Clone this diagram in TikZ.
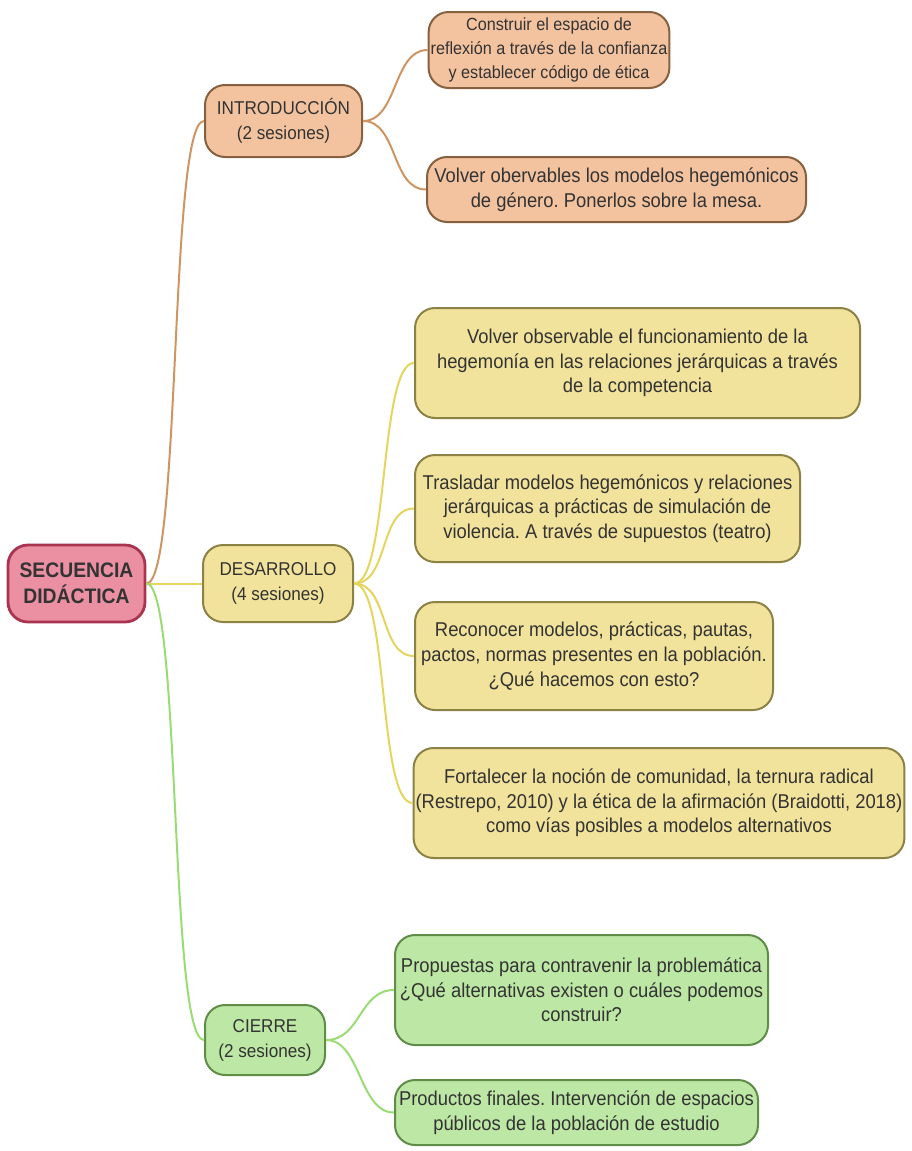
\documentclass[tikz,border=0pt]{standalone}
\usepackage{fontspec}
\setmainfont{Liberation Sans}[FakeStretch=0.92]
\usetikzlibrary{positioning}
\definecolor{rootfill}{HTML}{EB8FA2}
\definecolor{rootline}{HTML}{A9344F}
\definecolor{peach}{HTML}{F3C3A0}
\definecolor{peachline}{HTML}{86603F}
\definecolor{sand}{HTML}{F1E39C}
\definecolor{sandline}{HTML}{8C8245}
\definecolor{mint}{HTML}{BDE7A4}
\definecolor{mintline}{HTML}{5F8C47}
\definecolor{brownlink}{HTML}{CE9563}
\definecolor{yellowlink}{HTML}{E5D45E}
\definecolor{greenlink}{HTML}{9ADB74}
\definecolor{ink}{HTML}{333333}
\frenchspacing

\begin{document}
\begin{tikzpicture}[
  x=0.5pt,y=-0.5pt,
  text=ink,
  box/.style={rounded corners=10pt,line width=1pt,align=center,inner sep=1pt,
    font=\fontsize{10}{12.3}\selectfont},
  rootbox/.style={box,fill=rootfill,draw=rootline,line width=1.4pt,
    font=\fontsize{10.5}{12.8}\selectfont\bfseries},
  phase/.style={font=\fontsize{9.3}{12.5}\selectfont},
  introbox/.style={box,fill=peach,draw=peachline},
  desbox/.style={box,fill=sand,draw=sandline},
  cierrebox/.style={box,fill=mint,draw=mintline},
  link/.style={line width=1pt}
]
  \useasboundingbox (0,0) rectangle (911,1151);

  % main topic and the three phases
  \node[rootbox,minimum width=68.5pt,minimum height=38.5pt] (root) at (76.5,583.5) {SECUENCIA\\DIDÁCTICA};
  \node[introbox,phase,minimum width=78.5pt,minimum height=36pt] (intro) at (283.5,121) {INTRODUCCIÓN\\(2 sesiones)};
  \node[desbox,phase,minimum width=75pt,minimum height=38.5pt] (des) at (278,583.5) {DESARROLLO\\(4 sesiones)};
  \node[cierrebox,phase,minimum width=60pt,minimum height=35pt] (cierre) at (265,1040) {CIERRE\\(2 sesiones)};

  % introduccion
  \node[introbox,font=\fontsize{8.8}{12}\selectfont,minimum width=119pt,minimum height=38pt] (intro1) at (549,50)
    {Construir el espacio de\\reflexión a través de la confianza\\y establecer código de ética};
  \node[introbox,minimum width=189.5pt,minimum height=32.5pt] (intro2) at (616.5,189.5)
    {Volver obervables los modelos hegemónicos\\de género. Ponerlos sobre la mesa.};

  % desarrollo
  \node[desbox,minimum width=222.5pt,minimum height=55pt] (des1) at (637.5,363)
    {Volver observable el funcionamiento de la\\hegemonía en las relaciones jerárquicas a través\\de la competencia};
  \node[desbox,minimum width=192.5pt,minimum height=53.5pt] (des2) at (607.5,508.5)
    {Trasladar modelos hegemónicos y relaciones\\jerárquicas a prácticas de simulación de\\violencia. A través de supuestos (teatro)};
  \node[desbox,minimum width=179pt,minimum height=54pt] (des3) at (594,656)
    {Reconocer modelos, prácticas, pautas,\\pactos, normas presentes en la población.\\¿Qué hacemos con esto?};
  \node[desbox,minimum width=244pt,minimum height=55pt] (des4) at (659,803)
    {Fortalecer la noción de comunidad, la ternura radical\\(Restrepo, 2010) y la ética de la afirmación (Braidotti, 2018)\\como vías posibles a modelos alternativos};

  % cierre
  \node[cierrebox,minimum width=186.5pt,minimum height=55pt] (cierre1) at (581.5,990)
    {Propuestas para contravenir la problemática\\¿Qué alternativas existen o cuáles podemos\\construir?};
  \node[cierrebox,minimum width=181.5pt,minimum height=32.5pt] (cierre2) at (576.5,1112.5)
    {Productos finales. Intervención de espacios\\públicos de la población de estudio};

  % connectors
  \draw[link,brownlink] (root.east) .. controls +(35,0) and +(-35,0) .. (intro.west);
  \draw[link,yellowlink] (root.east) -- (des.west);
  \draw[link,greenlink] (root.east) .. controls +(35,0) and +(-35,0) .. (cierre.west);

  \draw[link,brownlink] (intro.east) .. controls +(35,0) and +(-35,0) .. (intro1.west);
  \draw[link,brownlink] (intro.east) .. controls +(35,0) and +(-35,0) .. (intro2.west);

  \foreach \leaf in {des1,des2,des3,des4}
    \draw[link,yellowlink] (des.east) .. controls +(35,0) and +(-35,0) .. (\leaf.west);

  \draw[link,greenlink] (cierre.east) .. controls +(35,0) and +(-35,0) .. (cierre1.west);
  \draw[link,greenlink] (cierre.east) .. controls +(35,0) and +(-35,0) .. (cierre2.west);
\end{tikzpicture}
\end{document}
